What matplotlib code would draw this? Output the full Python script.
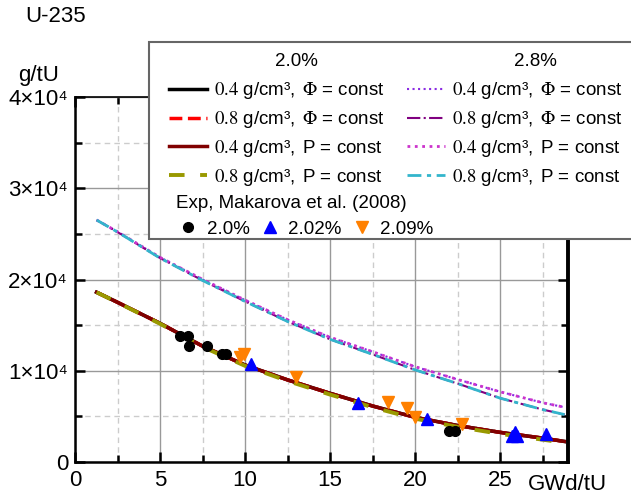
import matplotlib
matplotlib.use("Agg")
import matplotlib.pyplot as plt
from matplotlib.lines import Line2D
from matplotlib.patches import Rectangle
from matplotlib.ticker import MultipleLocator, FuncFormatter

plt.rcParams["font.family"] = ["Liberation Sans", "DejaVu Sans"]
plt.rcParams["mathtext.fontset"] = "stix"

# burnup, GWd/tU
bu_lo = [1.27, 2.5, 5, 7.5, 10, 12.5, 15, 17.5, 20, 22.5, 25, 27.5, 28.8]
bu_hi = [1.27, 2.5, 5, 7.5, 10, 12.5, 15, 17.5, 20, 22.5, 25, 27.5, 28.8]

# U-235 content, 1e4 g/tU
u20_04_phi = [1.86, 1.75, 1.52, 1.27, 1.063, 0.90, 0.753, 0.614, 0.49, 0.40, 0.325, 0.262, 0.225]
u20_08_phi = [1.86, 1.75, 1.52, 1.27, 1.063, 0.90, 0.753, 0.614, 0.49, 0.40, 0.325, 0.262, 0.225]
u20_04_p   = [1.86, 1.75, 1.52, 1.27, 1.063, 0.90, 0.753, 0.614, 0.49, 0.40, 0.325, 0.262, 0.225]
u20_08_p   = [1.86, 1.748, 1.515, 1.262, 1.054, 0.888, 0.739, 0.600, 0.475, 0.385, 0.308, 0.245, 0.21]

u28_04_phi = [2.652, 2.524, 2.243, 2.002, 1.775, 1.56, 1.367, 1.209, 1.045, 0.905, 0.77, 0.65, 0.60]
u28_08_phi = [2.652, 2.52, 2.235, 1.99, 1.76, 1.54, 1.345, 1.18, 1.01, 0.86, 0.70, 0.575, 0.52]
u28_04_p   = [2.652, 2.524, 2.243, 2.002, 1.775, 1.56, 1.367, 1.209, 1.045, 0.905, 0.77, 0.65, 0.60]
u28_08_p   = [2.652, 2.52, 2.235, 1.99, 1.76, 1.54, 1.345, 1.18, 1.01, 0.86, 0.70, 0.575, 0.52]

# experiment, Makarova et al. (2008)
exp20_x  = [6.18, 6.63, 6.71, 7.78, 8.63, 8.88, 22.02, 22.35]
exp20_y  = [1.381, 1.381, 1.275, 1.275, 1.18, 1.18, 0.343, 0.343]
exp202_x = [10.33, 16.67, 20.72, 25.7, 25.9, 26.0, 27.69]
exp202_y = [1.074, 0.643, 0.468, 0.29, 0.33, 0.285, 0.303]
exp209_x = [9.71, 9.96, 12.98, 18.39, 19.5, 20.0, 22.74]
exp209_y = [1.154, 1.18, 0.928, 0.661, 0.588, 0.49, 0.413]

SCALE = 1e4
W, H = 631, 497

fig = plt.figure(figsize=(W / 100, H / 100), dpi=100)
ax = fig.add_axes([75 / W, 35 / H, (568 - 75) / W, (462 - 97) / H])


def sc(v):
    return [x * SCALE for x in v]


curves = [
    (bu_hi, u28_04_phi, dict(color="#8a2be2", ls=":", lw=1.5)),
    (bu_hi, u28_08_phi, dict(color="#800080", ls="-.", lw=1.5)),
    (bu_hi, u28_04_p,   dict(color="#cc33cc", ls=":", lw=2.0)),
    (bu_hi, u28_08_p,   dict(color="#33b5cc", ls=(0, (5, 2, 1.5, 2)), lw=2.0)),
    (bu_lo, u20_04_phi, dict(color="black", ls="-", lw=2.5)),
    (bu_lo, u20_08_phi, dict(color="red", ls="--", lw=2.5)),
    (bu_lo, u20_04_p,   dict(color="#800000", ls="-", lw=2.5)),
    (bu_lo, u20_08_p,   dict(color="#999900", ls=(0, (4, 4)), lw=2.8)),
]
for x, y, st in curves:
    ax.plot(x, sc(y), **st)

ax.plot(exp20_x, sc(exp20_y), "o", color="black", ms=7, ls="none", zorder=5)
ax.plot(exp202_x, sc(exp202_y), "^", color="#0000ff", ms=8.5, ls="none", zorder=5)
ax.plot(exp209_x, sc(exp209_y), "v", color="#ff8000", ms=8.5, ls="none", zorder=5)

ax.set_xlim(0, 29)
ax.set_ylim(0, 4e4)
ax.xaxis.set_major_locator(MultipleLocator(5))
ax.xaxis.set_minor_locator(MultipleLocator(2.5))
ax.yaxis.set_major_locator(MultipleLocator(1e4))
ax.yaxis.set_minor_locator(MultipleLocator(5e3))


def yfmt(v, pos):
    if v == 0:
        return "0"
    return f"{int(round(v / 1e4))}×10⁴"


ax.yaxis.set_major_formatter(FuncFormatter(yfmt))
ax.grid(which="major", color="#999999", lw=1.0, ls="-")
ax.grid(which="minor", color="#cccccc", lw=1.0, ls=(0, (4, 3)))
ax.set_axisbelow(True)
ax.tick_params(which="both", direction="in", top=True, right=True,
               width=1.8, labelsize=16, colors="black")
ax.tick_params(which="major", length=7)
ax.tick_params(which="minor", length=5)
ax.tick_params(axis="x", pad=6)
ax.tick_params(axis="y", pad=5)
for side, lw in [("left", 1.8), ("bottom", 1.8), ("right", 2.8), ("top", 1.2)]:
    ax.spines[side].set_linewidth(lw)
    ax.spines[side].set_color("black")

fig.text(25 / W, 1 - 16 / H, "U-235", fontsize=16, ha="left", va="center")
fig.text(39 / W, 1 - 75 / H, "g/tU", fontsize=16, ha="center", va="center")
fig.text(528 / W, 1 - 485 / H, "GWd/tU", fontsize=16, ha="left", va="center")

# legend box
box = Rectangle((149 / W, 1 - 239 / H), 1.0, (239 - 42) / H, transform=fig.transFigure,
                facecolor="white", edgecolor="#666666", lw=1.5, zorder=5)
fig.add_artist(box)

LFS = 13.5
fig.text(296 / W, 1 - 62 / H, "2.0%", fontsize=LFS, ha="center", va="center", zorder=7)
fig.text(535 / W, 1 - 62 / H, "2.8%", fontsize=LFS, ha="center", va="center", zorder=7)

lab_phi = r"$0.{}$ g/cm³, $\,\Phi$ = const"
lab_p = r"$0.{}$ g/cm³, $\,$P = const"
labels = [lab_phi.format(4), lab_phi.format(8), lab_p.format(4), lab_p.format(8)]
left_h = [Line2D([], [], **curves[i][2]) for i in range(4, 8)]
right_h = [Line2D([], [], **curves[i][2]) for i in range(0, 4)]

common = dict(frameon=False, fontsize=LFS, borderpad=0, borderaxespad=0,
              labelspacing=0.42, handletextpad=0.4, loc="center left")
leg1 = fig.legend(left_h, labels, bbox_to_anchor=(169 / W, 1 - 134 / H), handlelength=2.0, **common)
leg2 = fig.legend(right_h, labels, bbox_to_anchor=(407 / W, 1 - 134 / H), handlelength=2.0, **common)

fig.text(176 / W, 1 - 203 / H, "Exp, Makarova et al. (2008)", fontsize=LFS,
         ha="left", va="center", zorder=7)
mk_h = [Line2D([], [], marker="o", color="black", ls="none", ms=7),
        Line2D([], [], marker="^", color="#0000ff", ls="none", ms=8.5),
        Line2D([], [], marker="v", color="#ff8000", ls="none", ms=8.5)]
leg3 = fig.legend(mk_h, ["2.0%", "2.02%", "2.09%"], ncol=3, frameon=False, fontsize=LFS,
                  borderpad=0, borderaxespad=0, handlelength=1.0, handletextpad=0.5,
                  columnspacing=0.55, loc="center left", bbox_to_anchor=(179 / W, 1 - 229 / H))
for lg in (leg1, leg2, leg3):
    lg.set_zorder(7)

fig.savefig("out.png", dpi=100)
